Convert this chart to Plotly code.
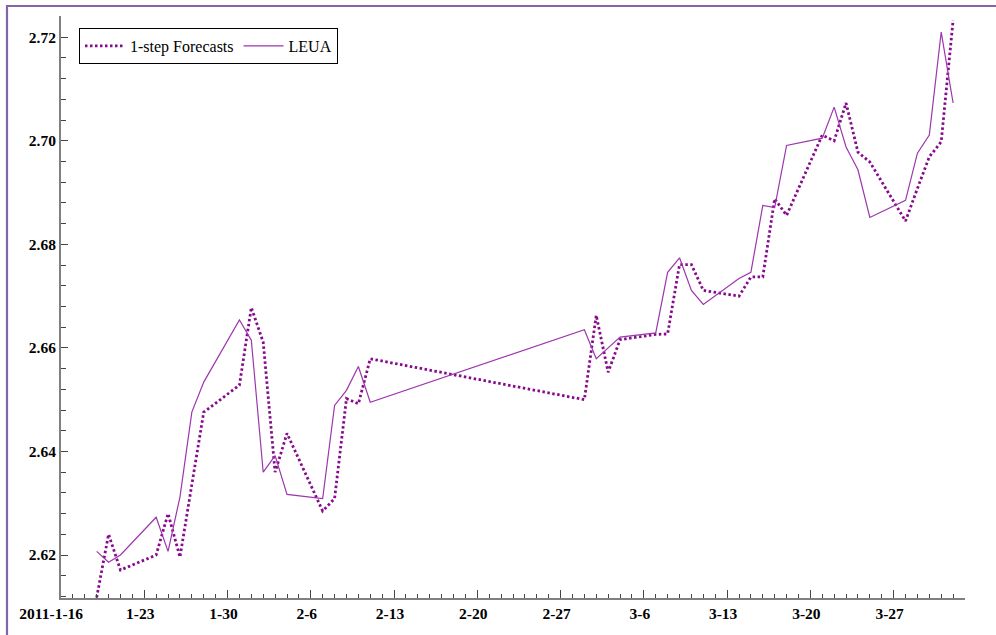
import plotly.graph_objects as go

# Trading days shown on the chart
dates = [
    "2011-01-19", "2011-01-20", "2011-01-21", "2011-01-24", "2011-01-25",
    "2011-01-26", "2011-01-27", "2011-01-28", "2011-01-31",
    "2011-02-01", "2011-02-02", "2011-02-03", "2011-02-04", "2011-02-07",
    "2011-02-08", "2011-02-09", "2011-02-10", "2011-02-11",
    "2011-03-01", "2011-03-02", "2011-03-03", "2011-03-04", "2011-03-07",
    "2011-03-08", "2011-03-09", "2011-03-10", "2011-03-11", "2011-03-14",
    "2011-03-15", "2011-03-16", "2011-03-17", "2011-03-18", "2011-03-21",
    "2011-03-22", "2011-03-23", "2011-03-24", "2011-03-25", "2011-03-28",
    "2011-03-29", "2011-03-30", "2011-03-31", "2011-04-01",
]

# Observed series
leua = [
    2.6207, 2.6186, 2.6200, 2.6273, 2.6207, 2.6312, 2.6476, 2.6534, 2.6654,
    2.6615, 2.6360, 2.6392, 2.6317, 2.6309, 2.6489, 2.6518, 2.6564, 2.6495,
    2.6635, 2.6579, 2.6600, 2.6621, 2.6629, 2.6746, 2.6774, 2.6711, 2.6684,
    2.6734, 2.6746, 2.6875, 2.6871, 2.6991, 2.7005, 2.7065, 2.6988, 2.6944,
    2.6852, 2.6885, 2.6976, 2.7011, 2.7210, 2.7073,
]

# One-step-ahead forecasts
forecasts = [
    2.6118, 2.6240, 2.6171, 2.6200, 2.6280, 2.6196, 2.6336, 2.6476, 2.6528,
    2.6678, 2.6611, 2.6360, 2.6435, 2.6285, 2.6309, 2.6502, 2.6492, 2.6579,
    2.6500, 2.6663, 2.6553, 2.6616, 2.6626, 2.6627, 2.6761, 2.6761, 2.6711,
    2.6700, 2.6737, 2.6737, 2.6888, 2.6856, 2.7011, 2.7000, 2.7073, 2.6978,
    2.6959, 2.6845, 2.6908, 2.6969, 2.6998, 2.7233,
]

x_tickvals = [
    "2011-01-16", "2011-01-23", "2011-01-30", "2011-02-06", "2011-02-13",
    "2011-02-20", "2011-02-27", "2011-03-06", "2011-03-13", "2011-03-20",
    "2011-03-27",
]
x_ticktext = [
    "2011-1-16\u00a0\u00a0\u00a0", "1-23", "1-30", "2-6", "2-13", "2-20",
    "2-27", "3-6", "3-13", "3-20", "3-27",
]
y_tickvals = [2.62, 2.64, 2.66, 2.68, 2.70, 2.72]
y_ticktext = ["2.62", "2.64", "2.66", "2.68", "2.70", "2.72"]

FONT = "Liberation Serif"
AXIS_GRAY = "#808080"
TICK_COLOR = "#444444"

fig = go.Figure()
fig.add_trace(go.Scatter(
    x=dates, y=forecasts, mode="lines", name="1-step Forecasts",
    line=dict(color="#860a8c", width=2.8, dash="2.5px,2.5px"),
))
fig.add_trace(go.Scatter(
    x=dates, y=leua, mode="lines", name="LEUA",
    line=dict(color="#9c36ac", width=1.2),
))

# page frame along the top and left edges
L, R, T, B = 61, 965, 16, 598
W, H = R - L, B - T
def px(xp):
    return (xp - L) / W
def py(yp):
    return (B - yp) / H
fig.add_shape(
    type="path", xref="paper", yref="paper",
    path=f"M {px(7)},{py(640)} L {px(7)},{py(6)} L {px(1000)},{py(6)}",
    line=dict(color="#8466a6", width=2.2),
)

fig.update_layout(
    width=996, height=635,
    margin=dict(l=L, r=996 - R, t=T, b=635 - B),
    paper_bgcolor="white", plot_bgcolor="white",
    font=dict(family=FONT, size=15, color="black"),
    showlegend=True,
    legend=dict(
        orientation="h", x=px(79), y=py(28), xanchor="left", yanchor="top",
        bgcolor="white", bordercolor="black", borderwidth=1,
        font=dict(family=FONT, size=16, color="black"),
        itemwidth=40, tracegroupgap=0,
    ),
    xaxis=dict(
        type="date", range=["2011-01-16", "2011-04-02"],
        tickmode="array", tickvals=x_tickvals, ticktext=x_ticktext,
        ticks="inside", ticklen=8, tickwidth=1, tickcolor=TICK_COLOR,
        showline=True, linecolor=AXIS_GRAY, linewidth=2,
        showgrid=False, zeroline=False,
        tickfont=dict(family=FONT, size=15.5, color="black", weight="bold"),
        ticklabelshift=-4,
        minor=dict(tickmode="linear", tick0="2011-01-16", dtick=86400000,
                   ticks="inside", ticklen=4, tickwidth=1,
                   tickcolor=TICK_COLOR, showgrid=False),
    ),
    yaxis=dict(
        range=[2.6117, 2.7241],
        tickmode="array", tickvals=y_tickvals, ticktext=y_ticktext,
        ticks="inside", ticklen=7, tickwidth=1, tickcolor=TICK_COLOR,
        showline=True, linecolor=AXIS_GRAY, linewidth=2,
        showgrid=False, zeroline=False,
        tickfont=dict(family=FONT, size=15.5, color="black", weight="bold"),
        minor=dict(tickmode="linear", tick0=2.62, dtick=0.004,
                   ticks="inside", ticklen=5, tickwidth=1,
                   tickcolor=TICK_COLOR, showgrid=False),
    ),
)

fig.write_html("out.html")
